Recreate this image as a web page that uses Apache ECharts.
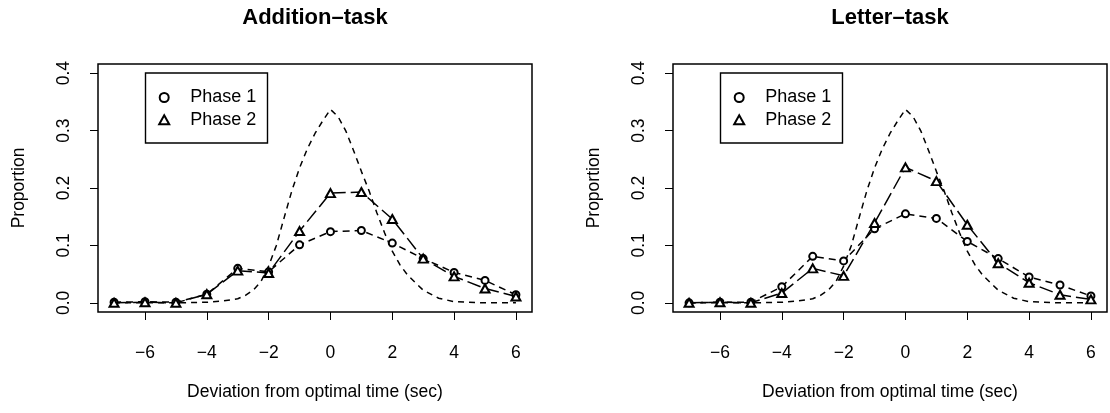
<!DOCTYPE html>
<html>
<head>
<meta charset="utf-8">
<script src="https://cdn.jsdelivr.net/npm/echarts@6/dist/echarts.min.js"></script>
<style>
html,body{margin:0;padding:0;background:#fff;}
#chart{width:1110px;height:413px;}
</style>
</head>
<body>
<div id="chart"></div>
<script>
// ---- data ----
const titles = ['Addition–task', 'Letter–task'];
const xValues = [-7, -6, -5, -4, -3, -2, -1, 0, 1, 2, 3, 4, 5, 6];
const additionPhase1 = [0.001, 0.002, 0.001, 0.015, 0.060, 0.054, 0.101, 0.124, 0.126, 0.104, 0.077, 0.053, 0.039, 0.014];
const additionPhase2 = [0.000, 0.001, 0.000, 0.015, 0.056, 0.052, 0.125, 0.191, 0.193, 0.146, 0.077, 0.046, 0.025, 0.011];
const letterPhase1   = [0.000, 0.001, 0.001, 0.028, 0.081, 0.073, 0.129, 0.155, 0.147, 0.107, 0.077, 0.045, 0.031, 0.012];
const letterPhase2   = [0.000, 0.001, 0.000, 0.017, 0.060, 0.047, 0.139, 0.236, 0.212, 0.136, 0.069, 0.035, 0.014, 0.006];
// optimal reference curve (dashed, no markers)
const refX = [-7, -6, -5, -4, -3.5, -3, -2.75, -2.5, -2.25, -2, -1.75, -1.5, -1.25, -1, -0.75, -0.5, -0.25, 0, 0.25, 0.5, 0.75, 1, 1.25, 1.5, 1.75, 2, 2.25, 2.5, 2.75, 3, 3.5, 4, 5, 6];
const refY = [0.000, 0.000, 0.000, 0.001, 0.003, 0.007, 0.013, 0.022, 0.037, 0.064, 0.100, 0.148, 0.195, 0.235, 0.268, 0.295, 0.317, 0.337, 0.324, 0.299, 0.265, 0.229, 0.195, 0.157, 0.122, 0.090, 0.066, 0.048, 0.035, 0.022, 0.008, 0.002, 0.000, 0.000];
const xTicks = [-6, -4, -2, 0, 2, 4, 6];
const yTicks = [0, 0.1, 0.2, 0.3, 0.4];
const legendNames = ['Phase 1', 'Phase 2'];
const xName = 'Deviation from optimal time (sec)';
const yName = 'Proportion';

const FONT = '"Liberation Sans", Arial, Helvetica, sans-serif';
const pairs = (xs, ys) => xs.map((x, i) => [x, ys[i]]);

const panels = [
  {left: 98, p1: additionPhase1, p2: additionPhase2},
  {left: 673, p1: letterPhase1, p2: letterPhase2}
];
const PW = 434, PT = 64, PH = 248;

const grids = [], xAxes = [], yAxes = [], series = [], legends = [], graphics = [];
panels.forEach((p, k) => {
  grids.push({left: p.left, top: PT, width: PW, height: PH, show: true,
    borderColor: '#000', borderWidth: 1.5, backgroundColor: 'transparent', containLabel: false});
  xAxes.push({type: 'value', gridIndex: k, min: -7.52, max: 6.52,
    name: xName, nameLocation: 'middle', nameGap: 71,
    nameTextStyle: {fontFamily: FONT, fontSize: 17.5, color: '#000'},
    axisLine: {show: false, onZero: false},
    axisTick: {show: true, length: 8, customValues: xTicks, lineStyle: {color: '#000', width: 1}},
    axisLabel: {customValues: xTicks, margin: 32, fontFamily: FONT, fontSize: 17.5, color: '#000',
      formatter: v => (v < 0 ? '\u2212' + Math.abs(v) : String(v))},
    splitLine: {show: false}});
  yAxes.push({type: 'value', gridIndex: k, min: -0.016, max: 0.416,
    name: yName, nameLocation: 'middle', nameGap: 70, nameRotate: 90,
    nameTextStyle: {fontFamily: FONT, fontSize: 17.5, color: '#000'},
    axisLine: {show: false, onZero: false},
    axisTick: {show: true, length: 8, customValues: yTicks, lineStyle: {color: '#000', width: 1}},
    axisLabel: {customValues: yTicks, rotate: 90, margin: 25, fontFamily: FONT, fontSize: 17.5, color: '#000',
      formatter: v => v.toFixed(1)},
    splitLine: {show: false}});
  series.push({name: 'Optimal', type: 'line', xAxisIndex: k, yAxisIndex: k,
    data: pairs(refX, refY), showSymbol: false, symbol: 'none', silent: true,
    lineStyle: {color: '#000', width: 1.5, type: [6, 5]}, z: 2});
  series.push({name: legendNames[0], type: 'line', xAxisIndex: k, yAxisIndex: k,
    data: pairs(xValues, p.p1), symbol: 'emptyCircle', symbolSize: 7,
    itemStyle: {color: '#000', borderWidth: 1.3},
    lineStyle: {color: '#000', width: 1.5, type: [7, 5]}, z: 3});
  series.push({name: legendNames[1], type: 'line', xAxisIndex: k, yAxisIndex: k,
    data: pairs(xValues, p.p2), symbol: 'emptyTriangle', symbolSize: [9, 8],
    itemStyle: {color: '#000', borderWidth: 1.3},
    lineStyle: {color: '#000', width: 1.5, type: [14, 5]}, z: 4});
  const boxLeft = p.left + 47.5;
  legends.push({show: true, orient: 'vertical', left: boxLeft + 17.7 - 5, top: 87.5,
    itemWidth: 10, itemHeight: 9, itemGap: 2.3, padding: 0, selectedMode: false,
    symbolKeepAspect: true,
    data: [{name: legendNames[0], icon: 'emptyCircle'}, {name: legendNames[1], icon: 'emptyTriangle'}],
    textStyle: {fontFamily: FONT, fontSize: 18, color: '#000', lineHeight: 20, padding: [0, 0, 0, 16]}});
  graphics.push({type: 'rect', shape: {x: boxLeft, y: 73, width: 122, height: 70},
    style: {fill: 'none', stroke: '#000', lineWidth: 1.4}, z: 10});
  graphics.push({type: 'text', x: p.left + PW / 2, y: 18,
    style: {text: titles[k], fill: '#000', font: 'bold 22px ' + FONT, textAlign: 'center', textVerticalAlign: 'middle'}});
});

const chart = echarts.init(document.getElementById('chart'), null, {renderer: 'canvas'});
chart.setOption({
  animation: false,
  backgroundColor: '#fff',
  grid: grids, xAxis: xAxes, yAxis: yAxes, series: series, legend: legends,
  graphic: graphics
});
</script>
</body>
</html>
